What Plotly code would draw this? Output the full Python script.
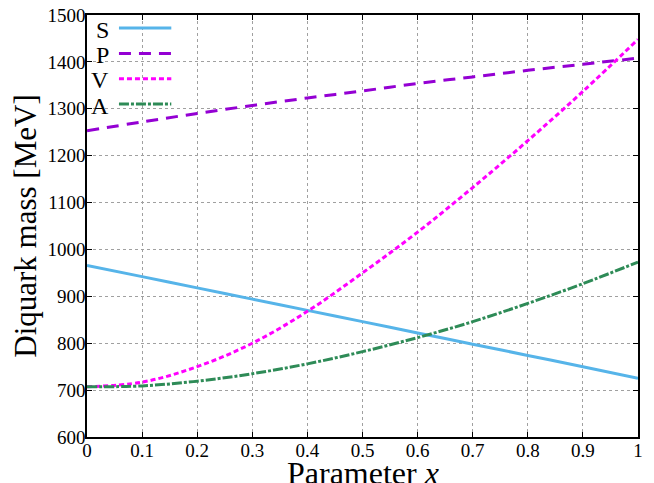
import plotly.graph_objects as go

x_vals = [0.0, 0.1, 0.2, 0.3, 0.4, 0.5, 0.6, 0.7, 0.8, 0.9, 1.0]
mass_S = [966, 942, 918, 894, 870, 846, 822, 798, 774, 750, 725]
mass_P = [1253, 1272, 1290, 1307, 1323, 1338, 1354, 1368, 1382, 1395, 1408]
mass_V = [707, 717, 750, 800, 868, 950, 1037, 1132, 1232, 1337, 1448]
mass_A = [707, 709, 719, 735, 756, 782, 812, 846, 885, 927, 973]

series_names = ["S", "P", "V", "A"]
series_vals = [mass_S, mass_P, mass_V, mass_A]
colors = ["#56B4E9", "#9400D3", "#FF00FF", "#2E8B57"]
dashes = ["solid", "12px,8px", "5px,3px", "10px,2px,3px,2px"]

x_ticks = [0, 0.1, 0.2, 0.3, 0.4, 0.5, 0.6, 0.7, 0.8, 0.9, 1]
x_ticklabels = ["0", "0.1", "0.2", "0.3", "0.4", "0.5", "0.6", "0.7", "0.8", "0.9", "1"]
y_ticks = [600, 700, 800, 900, 1000, 1100, 1200, 1300, 1400, 1500]
x_title = "Parameter <i>x</i>"
y_title = "Diquark mass [MeV]"

fig = go.Figure()
for name, vals, c, d in zip(series_names, series_vals, colors, dashes):
    fig.add_trace(go.Scatter(x=x_vals, y=vals, mode="lines", name=name,
                             line=dict(color=c, width=3, dash=d, shape="spline"),
                             showlegend=False))

# gnuplot-style legend: label text then line sample
leg_y = [0.965, 0.905, 0.845, 0.785]
for i, (name, c, d) in enumerate(zip(series_names, colors, dashes)):
    fig.add_annotation(x=0.043, y=leg_y[i], xref="paper", yref="paper", text=name,
                       showarrow=False, xanchor="right", yanchor="middle",
                       font=dict(family="Liberation Serif", size=24, color="black"))
    fig.add_shape(type="line", xref="paper", yref="paper", x0=0.058, x1=0.153,
                  y0=leg_y[i] + 0.004, y1=leg_y[i] + 0.004,
                  line=dict(color=c, width=3, dash=d))

# x-axis title as a paper-anchored text so it sits just below the tick labels
fig.add_annotation(x=0.5, y=-0.085, xref="paper", yref="paper", text=x_title,
                   showarrow=False, xanchor="center", yanchor="middle",
                   font=dict(family="Liberation Serif", size=32, color="black"))

axis_common = dict(showline=True, linecolor="black", linewidth=1.5, mirror="ticks",
                   ticks="inside", ticklen=5, tickcolor="black", tickwidth=1,
                   showgrid=True, gridcolor="#a0a0a0", gridwidth=1, griddash="dot",
                   zeroline=False, automargin=False,
                   tickfont=dict(family="Liberation Serif", size=19, color="black"))

fig.update_layout(
    width=654, height=483,
    margin=dict(l=87, r=16, t=15, b=46, autoexpand=False),
    plot_bgcolor="white", paper_bgcolor="white",
    xaxis=dict(range=[0, 1], tickvals=x_ticks, ticktext=x_ticklabels,
               ticklabelstandoff=-5,
               **axis_common),
    yaxis=dict(range=[600, 1500], tickvals=y_ticks,
               ticklabelstandoff=-4,
               title=dict(text=y_title, standoff=2,
                          font=dict(family="Liberation Serif", size=31, color="black")),
               **axis_common),
)

fig.write_html("out.html", config={"displayModeBar": False},
               post_script="document.body.style.margin='0';document.body.style.overflow='hidden';")
